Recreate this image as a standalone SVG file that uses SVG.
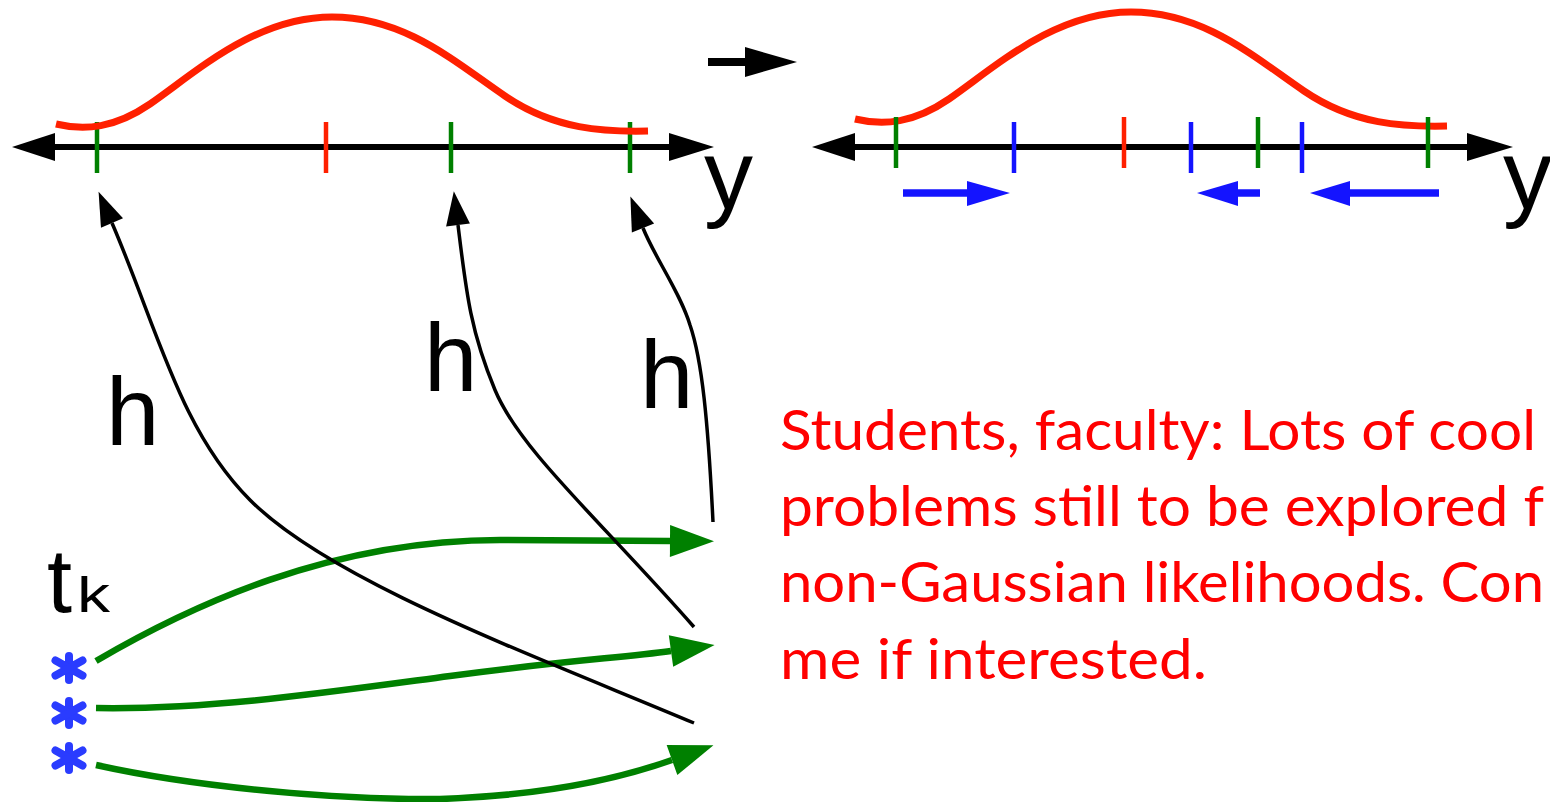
<svg xmlns="http://www.w3.org/2000/svg" xmlns:xlink="http://www.w3.org/1999/xlink" width="1550" height="802" viewBox="0 0 1550 802">
<style>
.axis{stroke:#000;stroke-width:6;fill:none}
.ah{fill:#000}
.curve{stroke:#ff2000;stroke-width:7;fill:none;stroke-linecap:butt}
.tg{stroke:#008000;stroke-width:4.5}
.tr{stroke:#ff2000;stroke-width:4.5}
.tb{stroke:#1414ff;stroke-width:4.5}
.barrow{stroke:#1414ff;stroke-width:7.5;fill:none}
.bhead{fill:#1414ff}
.lbl{font-family:"Liberation Sans",Arial,sans-serif;fill:#000}
.garrow{stroke:#008000;stroke-width:6.5;fill:none}
.karrow{stroke:#000;stroke-width:3.5;fill:none}
.note{font-family:Lato,"Open Sans",sans-serif;font-size:57px;fill:#ff0000}
.ast{stroke:#2a3cff;stroke-width:8;stroke-linecap:round}
</style>
<defs>
<marker id="gm" markerUnits="userSpaceOnUse" viewBox="0 -16 44 32" markerWidth="44" markerHeight="32" refX="0" refY="0" orient="auto" overflow="visible">
<path d="M0,-16 L44,0 L0,16 z" fill="#008000"/>
</marker>
<marker id="km" markerUnits="userSpaceOnUse" viewBox="0 -12 34 24" markerWidth="34" markerHeight="24" refX="0" refY="0" orient="auto" overflow="visible">
<path d="M0,-12 L34,0 L0,12 z" fill="#000"/>
</marker>
<g id="asterisk">
<line x1="0" y1="-12" x2="0" y2="12"/>
<line x1="-13.5" y1="-7.5" x2="13.5" y2="7.5"/>
<line x1="-13.5" y1="7.5" x2="13.5" y2="-7.5"/>
</g>
<path id="gauss" d="M56,124 C85,131 115,128 150,104 C195,73 255,17 332,17 C405,17 455,62 505,96 C555,130 605,132 648,131"/>
</defs>

<g id="panel-left">
<line class="axis" x1="50" y1="147" x2="672" y2="147"/>
<polygon class="ah" points="12,147 55,133 55,161"/>
<polygon class="ah" points="714,147 669,133 669,161"/>
<line class="tg" x1="97" y1="122" x2="97" y2="173"/>
<line class="tr" x1="326" y1="122" x2="326" y2="173"/>
<line class="tg" x1="451" y1="122" x2="451" y2="173"/>
<line class="tg" x1="630" y1="122" x2="630" y2="173"/>
<use xlink:href="#gauss" class="curve"/>
<text class="lbl" x="704" y="209" font-size="98">y</text>
</g>

<g id="step-arrow">
<line x1="708" y1="62" x2="747" y2="62" stroke="#000" stroke-width="8"/>
<polygon class="ah" points="745,47 797,62 745,77"/>
</g>

<g id="panel-right">
<line class="axis" x1="850" y1="147" x2="1470" y2="147"/>
<polygon class="ah" points="812,147 855,133 855,161"/>
<polygon class="ah" points="1513,147 1467,133 1467,161"/>
<use xlink:href="#gauss" class="curve" transform="translate(799,-5)"/>
<line class="tg" x1="896" y1="117" x2="896" y2="168"/>
<line class="tb" x1="1014" y1="122" x2="1014" y2="173"/>
<line class="tr" x1="1124" y1="117" x2="1124" y2="168"/>
<line class="tb" x1="1191" y1="122" x2="1191" y2="173"/>
<line class="tg" x1="1258" y1="117" x2="1258" y2="168"/>
<line class="tb" x1="1302" y1="122" x2="1302" y2="173"/>
<line class="tg" x1="1428" y1="117" x2="1428" y2="168"/>
<line class="barrow" x1="903" y1="193" x2="970" y2="193"/>
<polygon class="bhead" points="967,181 1010,193 967,206"/>
<line class="barrow" x1="1260" y1="193" x2="1235" y2="193"/>
<polygon class="bhead" points="1238,181 1197,193 1238,206"/>
<line class="barrow" x1="1439" y1="193" x2="1347" y2="193"/>
<polygon class="bhead" points="1350,181 1310,193 1350,206"/>
<text class="lbl" x="1503" y="209" font-size="98">y</text>
</g>

<g id="label-tk">
<text class="lbl" x="47" y="612" font-size="90">t</text>
<text class="lbl" x="77" y="612" font-size="50" textLength="33" lengthAdjust="spacingAndGlyphs">k</text>
</g>

<g id="samples" class="ast">
<use xlink:href="#asterisk" x="69" y="668"/>
<use xlink:href="#asterisk" x="69" y="713"/>
<use xlink:href="#asterisk" x="69" y="758"/>
</g>

<g id="labels-h">
<text class="lbl" x="106" y="445" font-size="96">h</text>
<text class="lbl" x="424" y="391" font-size="96">h</text>
<text class="lbl" x="640" y="408" font-size="96">h</text>
</g>

<g id="connectors">
<path class="garrow" marker-end="url(#gm)" d="M96,661 C190,606 330,540 500,540 L670,541"/>
<path class="garrow" marker-end="url(#gm)" d="M96,708 C210,710 330,692 450,676 S620,658 671,651"/>
<path class="garrow" marker-end="url(#gm)" d="M96,765 C200,788 340,800 440,799 C530,796 610,782 672,760"/>
<path class="karrow" marker-end="url(#km)" d="M694,723 C520,650 330,580 250,500 C180,430 158,330 112,223"/>
<path class="karrow" marker-end="url(#km)" d="M694,627 C600,520 520,450 495,390 C470,330 466,290 458,225"/>
<path class="karrow" marker-end="url(#km)" d="M713,522 C708,420 702,360 690,325 C680,292 655,258 643,228"/>
</g>

<g id="note">
<text class="note" x="780" y="450" textLength="756" lengthAdjust="spacingAndGlyphs">Students, faculty: Lots of cool</text>
<text class="note" x="780" y="526" textLength="764" lengthAdjust="spacingAndGlyphs">problems still to be explored f</text>
<text class="note" x="780" y="602" textLength="764" lengthAdjust="spacingAndGlyphs">non-Gaussian likelihoods. Con</text>
<text class="note" x="780" y="679" textLength="427" lengthAdjust="spacingAndGlyphs">me if interested.</text>
</g>
</svg>
